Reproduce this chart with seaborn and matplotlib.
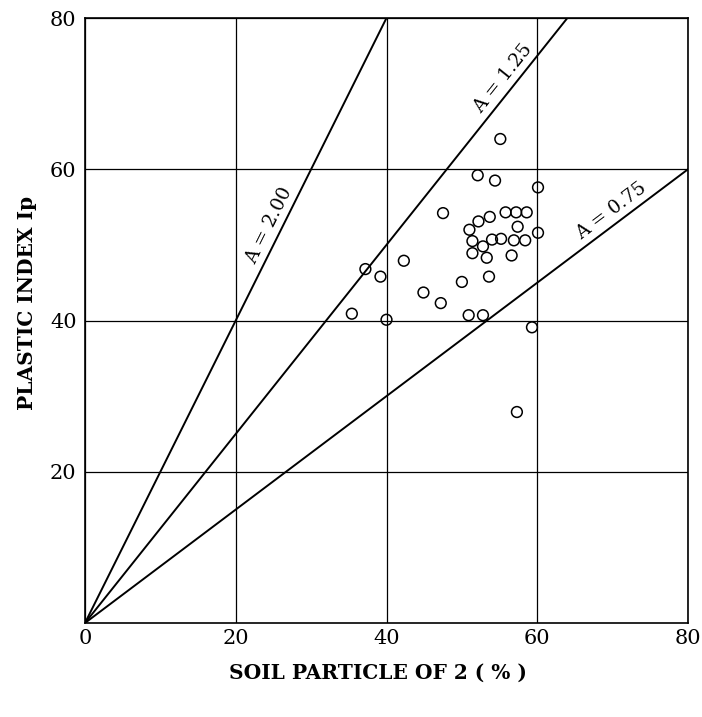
import numpy as np
import pandas as pd
import matplotlib
matplotlib.use("Agg")
import matplotlib.pyplot as plt
import seaborn as sns

# Measured samples: clay fraction (%) vs plasticity index
clay_pct = [55.1, 52.1, 54.4, 60.1, 47.5, 55.8, 57.2, 58.6, 53.7, 52.2,
            57.4, 51.0, 60.1, 51.4, 54.0, 55.2, 56.9, 58.4, 52.8, 51.4,
            53.3, 56.6, 37.2, 42.3, 39.2, 53.6, 50.0, 44.9, 47.2, 35.4,
            40.0, 50.9, 52.8, 59.3, 57.3]
plastic_index = [64.0, 59.2, 58.5, 57.6, 54.2, 54.3, 54.3, 54.3, 53.7, 53.1,
                 52.4, 52.0, 51.6, 50.5, 50.7, 50.8, 50.6, 50.6, 49.8, 48.9,
                 48.3, 48.6, 46.8, 47.9, 45.8, 45.8, 45.1, 43.7, 42.3, 40.9,
                 40.1, 40.7, 40.7, 39.1, 27.9]

# Activity lines A = Ip / clay fraction
activity = [2.00, 1.25, 0.75]
activity_labels = ["A = 2.00", "A = 1.25", "A = 0.75"]
label_x = [25.9, 56.8, 70.9]

ticks = [0, 20, 40, 60, 80]

sns.set_theme(style="white")
plt.rcParams["font.family"] = ["DejaVu Serif"]
plt.rcParams["text.color"] = "black"
plt.rcParams["axes.labelcolor"] = "black"

fig = plt.figure(figsize=(7.02, 7.17), dpi=100)
ax = fig.add_axes([85 / 702, 1 - 623 / 717, 603 / 702, 605 / 717])

# Activity lines
for a in activity:
    xe = min(80.0, 80.0 / a)
    df = pd.DataFrame({"x": [0.0, xe], "y": [0.0, a * xe]})
    sns.lineplot(data=df, x="x", y="y", ax=ax, color="black", lw=1.4,
                 estimator=None, sort=False, legend=False)

# Samples
pts = pd.DataFrame({"clay": clay_pct, "ip": plastic_index})
sns.scatterplot(data=pts, x="clay", y="ip", ax=ax, marker="o", s=60,
                facecolor="none", edgecolor="black", linewidth=1.1, zorder=5)

ax.set_xlim(0, 80)
ax.set_ylim(0, 80)
ax.set_xticks(ticks)
ax.set_yticks(ticks[1:])
ax.set_xticklabels([str(t) for t in ticks], fontsize=15)
ax.set_yticklabels([str(t) for t in ticks[1:]], fontsize=15)
ax.tick_params(axis="x", length=0, pad=4, colors="black")
ax.tick_params(axis="y", length=0, pad=6, colors="black")
ax.grid(True, color="black", lw=0.9)
for s in ax.spines.values():
    s.set_color("black")
    s.set_linewidth(1.2)

# Line labels, rotated along each line
for a, txt, lx in zip(activity, activity_labels, label_x):
    ang = np.degrees(np.arctan(a * (605 / 603)))
    ly = a * lx
    off = 1.7
    nx, ny = -np.sin(np.radians(ang)), np.cos(np.radians(ang))
    ax.text(lx + off * nx, ly + off * ny, txt, rotation=ang, rotation_mode="anchor",
            ha="center", va="center", fontsize=13.5, color="black")

ax.set_xlabel("SOIL PARTICLE OF 2 ( % )", fontsize=14.5, fontweight="bold")
ax.set_ylabel("PLASTIC INDEX Ip", fontsize=14.5, fontweight="bold")
ax.xaxis.set_label_coords(0.486, -0.066)
ax.yaxis.set_label_coords(-0.0796, 0.529)

fig.savefig("out.png", dpi=100)
